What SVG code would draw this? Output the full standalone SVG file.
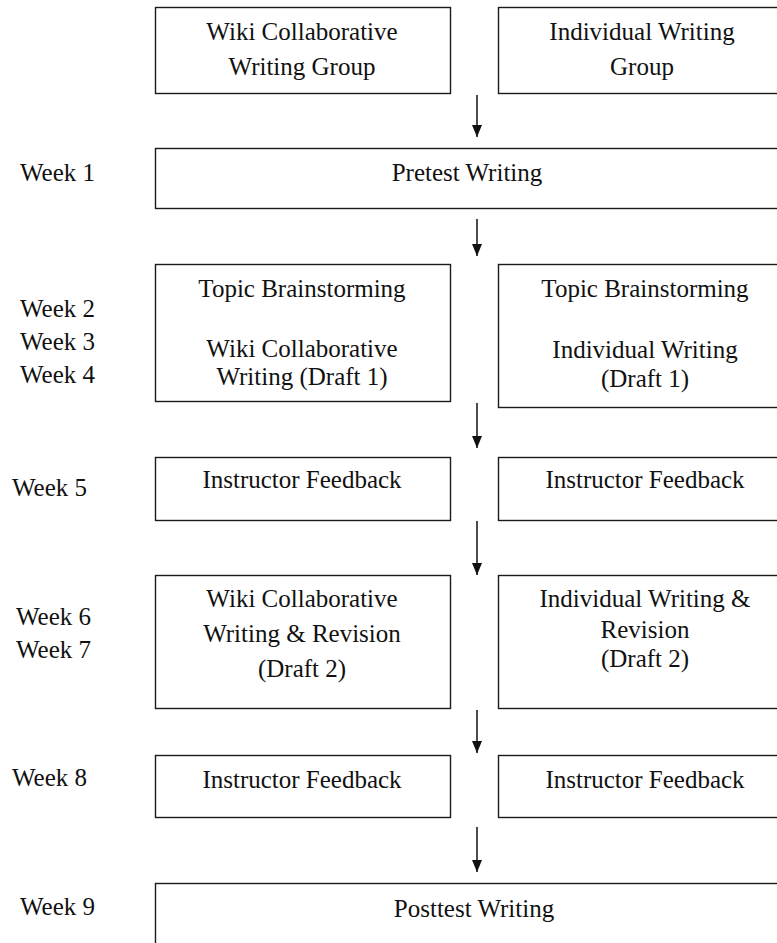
<svg xmlns="http://www.w3.org/2000/svg" width="777" height="943" viewBox="0 0 777 943">
<style>
  .box { fill: #ffffff; stroke: #1a1a1a; stroke-width: 1.4; }
  .t { font-size: 25px; fill: #111; }
  .c { text-anchor: middle; }
  .conn { stroke: #111; stroke-width: 1.5; fill: none; }
</style>
<defs>
  <marker id="ah" viewBox="0 0 12 10" refX="12" refY="5" markerWidth="12" markerHeight="10" markerUnits="userSpaceOnUse" orient="auto">
    <path d="M0,0 L12,5 L0,10 Z" fill="#111"/>
  </marker>
</defs>
<rect width="777" height="943" fill="#ffffff"/>
<g font-family="Liberation Serif, DejaVu Serif, serif">
<g id="labels">
  <text class="t" x="20" y="181">Week 1</text>
  <text class="t" x="20" y="317">Week 2</text>
  <text class="t" x="20" y="350">Week 3</text>
  <text class="t" x="20" y="383">Week 4</text>
  <text class="t" x="12" y="496">Week 5</text>
  <text class="t" x="16" y="625">Week 6</text>
  <text class="t" x="16" y="658">Week 7</text>
  <text class="t" x="12" y="786">Week 8</text>
  <text class="t" x="20" y="915">Week 9</text>
</g>

<g id="wiki-group">
  <rect class="box" x="155.5" y="7.5" width="295" height="86"/>
  <text class="t c" x="302" y="40">Wiki Collaborative</text>
  <text class="t c" x="302" y="75">Writing Group</text>
</g>
<g id="individual-group">
  <rect class="box" x="498.5" y="7.5" width="285" height="86"/>
  <text class="t c" x="642" y="40">Individual Writing</text>
  <text class="t c" x="642" y="75">Group</text>
</g>

<g id="pretest">
  <rect class="box" x="155.5" y="148.5" width="628" height="60"/>
  <text class="t c" x="467" y="181">Pretest Writing</text>
</g>

<g id="wiki-draft1">
  <rect class="box" x="155.5" y="264.5" width="295" height="137"/>
  <text class="t c" x="302" y="297">Topic Brainstorming</text>
  <text class="t c" x="302" y="357">Wiki Collaborative</text>
  <text class="t c" x="302" y="385">Writing (Draft 1)</text>
</g>
<g id="individual-draft1">
  <rect class="box" x="498.5" y="264.5" width="285" height="143"/>
  <text class="t c" x="645" y="297">Topic Brainstorming</text>
  <text class="t c" x="645" y="358">Individual Writing</text>
  <text class="t c" x="645" y="387">(Draft 1)</text>
</g>

<g id="wiki-feedback1">
  <rect class="box" x="155.5" y="457.5" width="295" height="63"/>
  <text class="t c" x="302" y="488">Instructor Feedback</text>
</g>
<g id="individual-feedback1">
  <rect class="box" x="498.5" y="457.5" width="285" height="63"/>
  <text class="t c" x="645" y="488">Instructor Feedback</text>
</g>

<g id="wiki-draft2">
  <rect class="box" x="155.5" y="575.5" width="295" height="133"/>
  <text class="t c" x="302" y="607">Wiki Collaborative</text>
  <text class="t c" x="302" y="642">Writing &amp; Revision</text>
  <text class="t c" x="302" y="677">(Draft 2)</text>
</g>
<g id="individual-draft2">
  <rect class="box" x="498.5" y="575.5" width="285" height="133"/>
  <text class="t c" x="645" y="607">Individual Writing &amp;</text>
  <text class="t c" x="645" y="638">Revision</text>
  <text class="t c" x="645" y="667">(Draft 2)</text>
</g>

<g id="wiki-feedback2">
  <rect class="box" x="155.5" y="755.5" width="295" height="62"/>
  <text class="t c" x="302" y="788">Instructor Feedback</text>
</g>
<g id="individual-feedback2">
  <rect class="box" x="498.5" y="755.5" width="285" height="62"/>
  <text class="t c" x="645" y="788">Instructor Feedback</text>
</g>

<g id="posttest">
  <rect class="box" x="155.5" y="883.5" width="628" height="70"/>
  <text class="t c" x="474" y="917">Posttest Writing</text>
</g>
</g>
<g id="connectors">
  <line class="conn" x1="477" y1="95" x2="477" y2="137" marker-end="url(#ah)"/>
  <line class="conn" x1="477" y1="219" x2="477" y2="256" marker-end="url(#ah)"/>
  <line class="conn" x1="477" y1="403" x2="477" y2="448" marker-end="url(#ah)"/>
  <line class="conn" x1="477" y1="521" x2="477" y2="575" marker-end="url(#ah)"/>
  <line class="conn" x1="477" y1="710" x2="477" y2="753" marker-end="url(#ah)"/>
  <line class="conn" x1="477" y1="827" x2="477" y2="872" marker-end="url(#ah)"/>
</g>
</svg>
